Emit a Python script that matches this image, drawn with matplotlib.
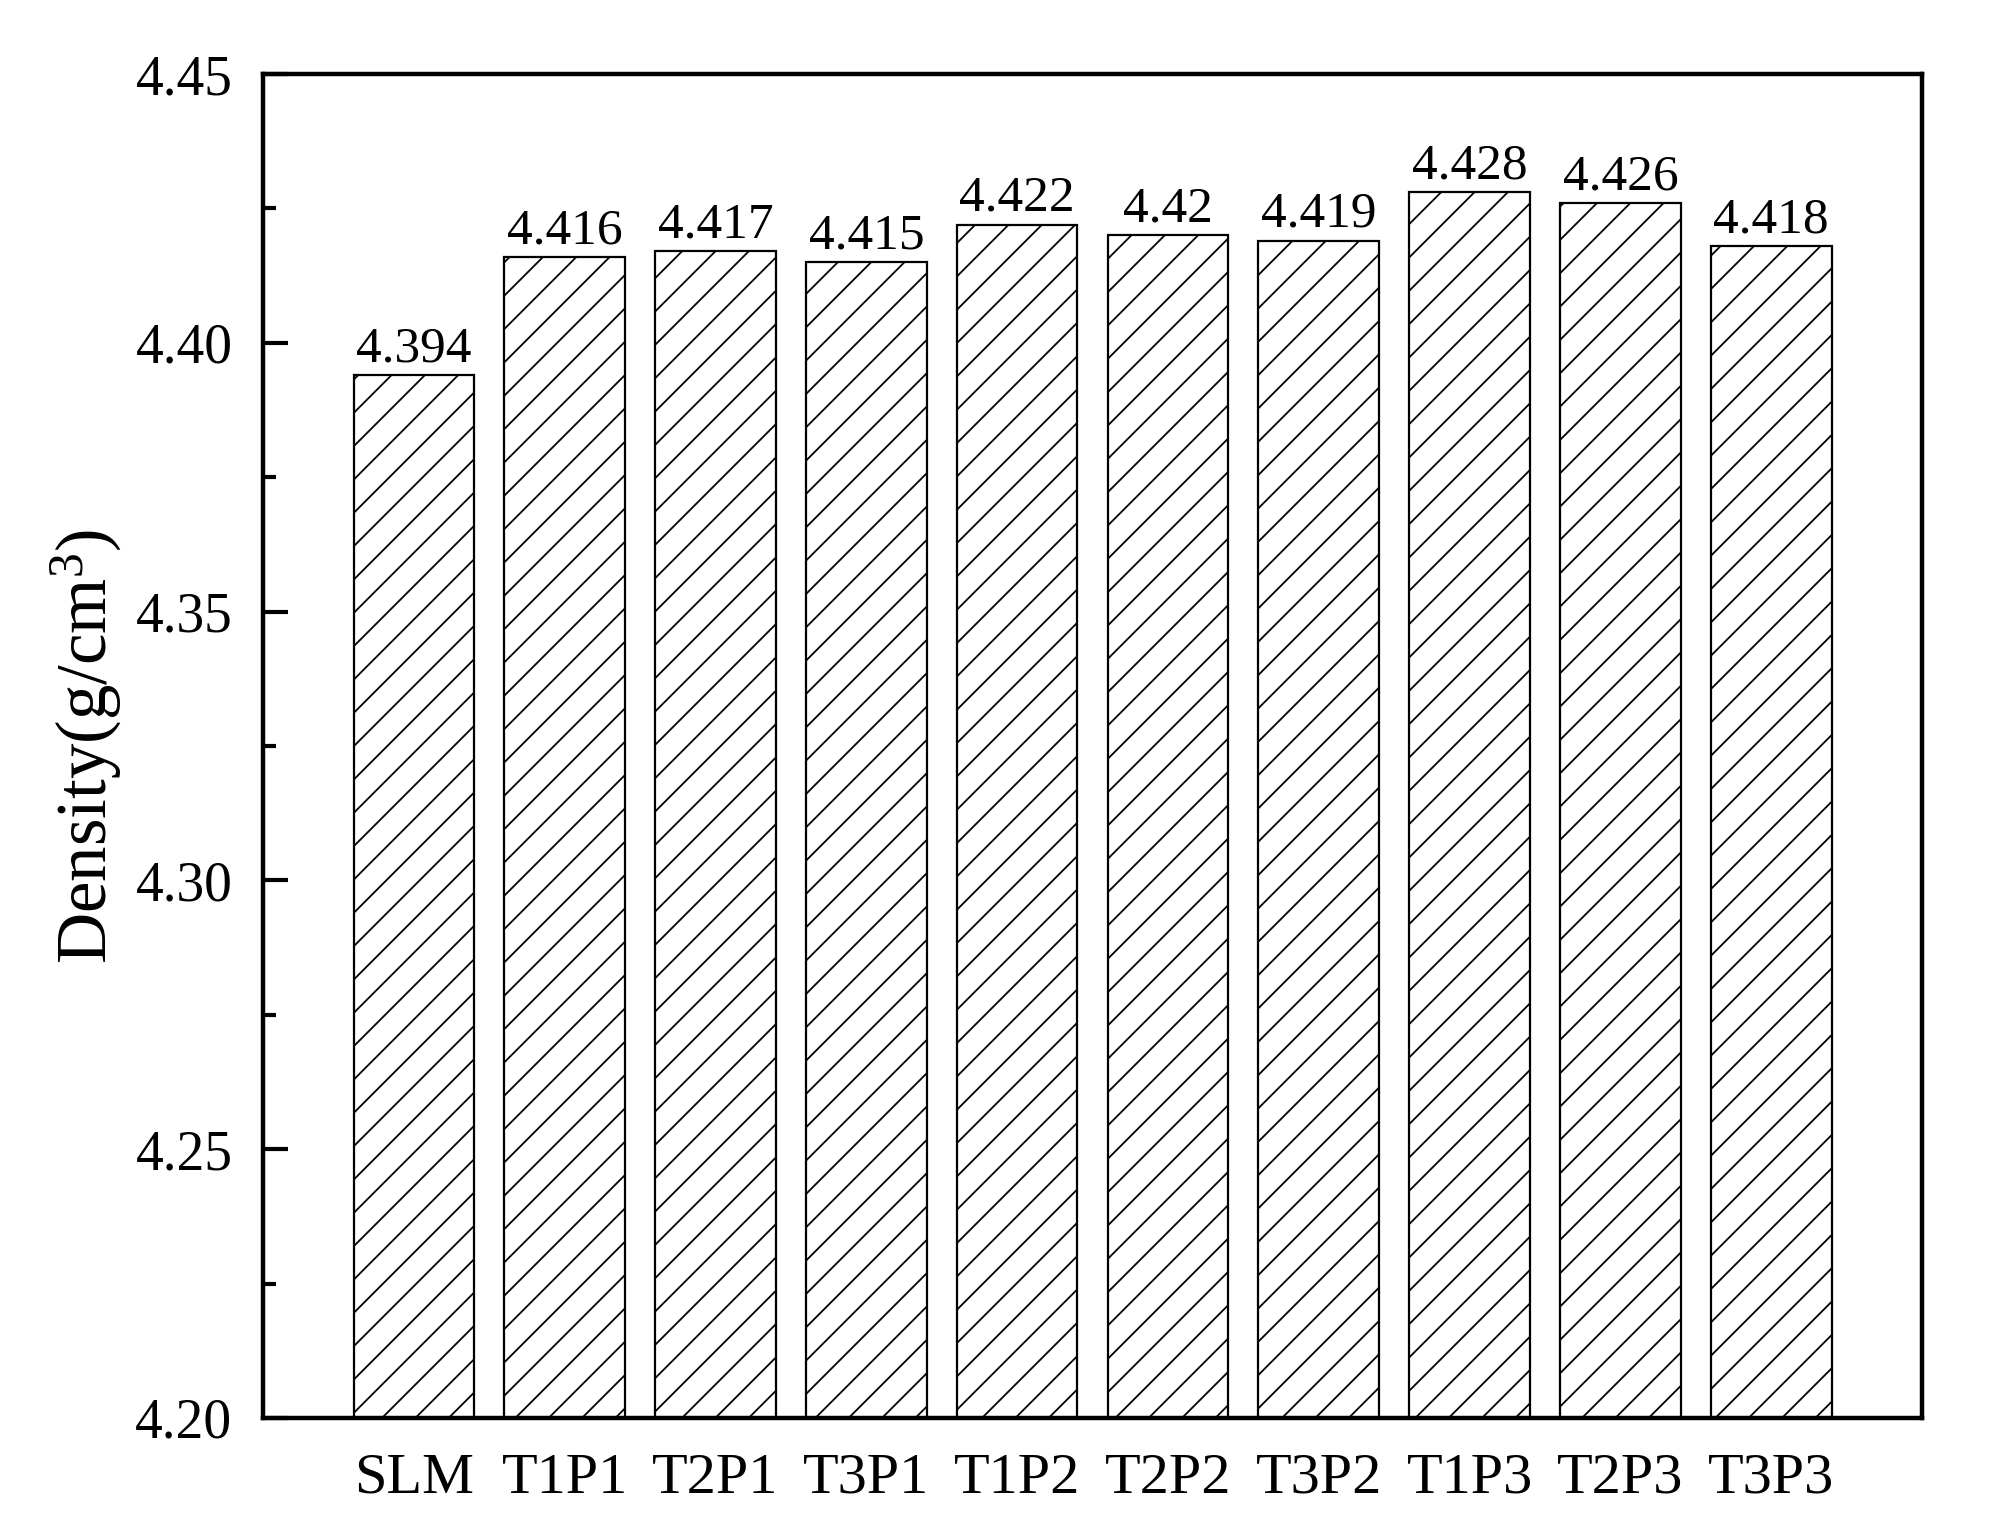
import matplotlib
matplotlib.use("Agg")
import matplotlib.pyplot as plt
from matplotlib.ticker import MultipleLocator, FormatStrFormatter

categories = ["SLM", "T1P1", "T2P1", "T3P1", "T1P2", "T2P2", "T3P2", "T1P3", "T2P3", "T3P3"]
density = [4.394, 4.416, 4.417, 4.415, 4.422, 4.42, 4.419, 4.428, 4.426, 4.418]
value_labels = ["4.394", "4.416", "4.417", "4.415", "4.422", "4.42", "4.419", "4.428", "4.426", "4.418"]

plt.rcParams['font.family'] = ['Liberation Serif', 'DejaVu Serif']
plt.rcParams['mathtext.fontset'] = 'custom'
plt.rcParams['mathtext.rm'] = 'Liberation Serif'
plt.rcParams['mathtext.it'] = 'Liberation Serif:italic'
plt.rcParams['hatch.linewidth'] = 1.3

fig = plt.figure(figsize=(19.97, 15.29), dpi=100)
ax = fig.add_axes([0.1317, 0.0726, 0.9625 - 0.1317, 0.9516 - 0.0726])

x = list(range(1, len(categories) + 1))
bars = ax.bar(x, density, width=0.8, color='white', edgecolor='black',
              linewidth=1.6, hatch='/')
ax.bar_label(bars, labels=value_labels, padding=2, fontsize=37)

ax.set_xlim(0, len(categories) + 1)
ax.set_ylim(4.20, 4.45)
ax.set_xticks(x)
ax.set_xticklabels(categories)
ax.yaxis.set_major_locator(MultipleLocator(0.05))
ax.yaxis.set_minor_locator(MultipleLocator(0.025))
ax.yaxis.set_major_formatter(FormatStrFormatter('%.2f'))

ax.tick_params(axis='y', which='major', direction='in', length=18, width=3,
               labelsize=40, pad=22)
ax.tick_params(axis='y', which='minor', direction='in', length=9, width=3)
ax.tick_params(axis='x', which='both', length=0, labelsize=42, pad=25)

for s in ax.spines.values():
    s.set_linewidth(3.2)

ax.set_ylabel(r'Density(g/cm$\mathregular{^3}$)', fontsize=51, labelpad=8)

fig.savefig("out.png", dpi=100)
